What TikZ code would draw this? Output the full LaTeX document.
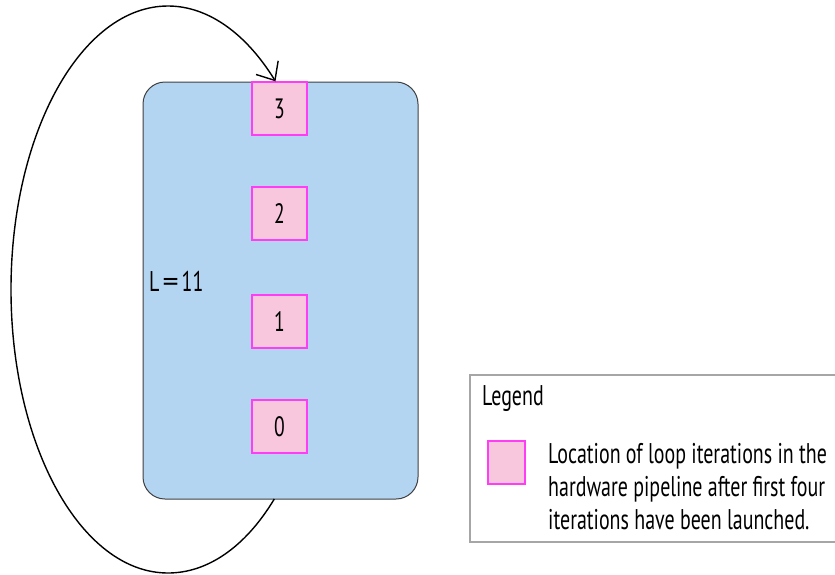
\documentclass[tikz,border=0pt]{standalone}
\usepackage{fontspec}
\setmainfont{PT Sans}[FakeStretch=0.7]
\usetikzlibrary{arrows.meta}
\definecolor{pipeblue}{HTML}{B3D5F1}
\definecolor{iterpink}{HTML}{F8C6DD}
\definecolor{itermag}{HTML}{FF3DF5}
\definecolor{legendgray}{HTML}{A6A6A6}
\tikzset{
  pipeline/.style={draw=black!75, line width=1pt, fill=pipeblue, rounded corners=22pt,
    minimum width=275pt, minimum height=417pt, inner sep=0pt},
  iterbox/.style={draw=itermag, line width=1.3pt, fill=iterpink,
    minimum width=55pt, minimum height=53pt, inner sep=0pt,
    font=\fontsize{28}{30}\selectfont},
  loopback/.style={draw=black, line width=1.4pt,
    -{Straight Barb[length=15pt, width=26pt, line width=1.4pt]}},
  legendframe/.style={draw=legendgray, line width=1.5pt, fill=white},
  bodytext/.style={font=\fontsize{28.5}{33}\selectfont, inner sep=0pt}
}
\begin{document}
\begin{tikzpicture}[x=1pt, y=-1pt]
  \useasboundingbox (0,0) rectangle (835,574);

  % hardware pipeline
  \node[pipeline] (blue) at (280.5,290.5) {};
  \node[bodytext, anchor=base west] (lat) at (149,291)
    {L\hspace{3pt}\scalebox{1.6}[1]{=}\hspace{3pt}11};

  % loop iterations in flight
  \node[iterbox] (b3) at (279.5,108.5) {3};
  \node[iterbox] (b2) at (279.5,213.5) {2};
  \node[iterbox] (b1) at (279.5,321.5) {1};
  \node[iterbox] (b0) at (279.5,426.5) {0};

  % feedback path from the pipeline exit back to its entry
  \coordinate (tail) at (274.3,499);
  \coordinate (head) at ([xshift=-4pt]b3.north);
  \draw[loopback] (tail)
    .. controls (245.2,547.3) and (207.4,573) .. (168,573)
    .. controls (81.3,573) and (11,446.1) .. (11,289.5)
    .. controls (11,132.9) and (81.3,6) .. (168,6)
    .. controls (207.7,6) and (245.9,33.2) .. (head);

  % legend
  \node[legendframe, minimum width=380pt, minimum height=167pt, anchor=north west]
    (legend) at (469,374) {};
  \node[bodytext, anchor=base west] (legtitle) at (482,405) {Legend};
  \node[iterbox, minimum width=37pt, minimum height=43pt] (swatch) at (506.5,462.5) {};
  \node[bodytext, anchor=base west] (legl1) at (548,463) {Location of loop iterations in the};
  \node[bodytext, anchor=base west] (legl2) at (548,496) {hardware pipeline after first four};
  \node[bodytext, anchor=base west] (legl3) at (548,529) {iterations have been launched.};
\end{tikzpicture}
\end{document}
